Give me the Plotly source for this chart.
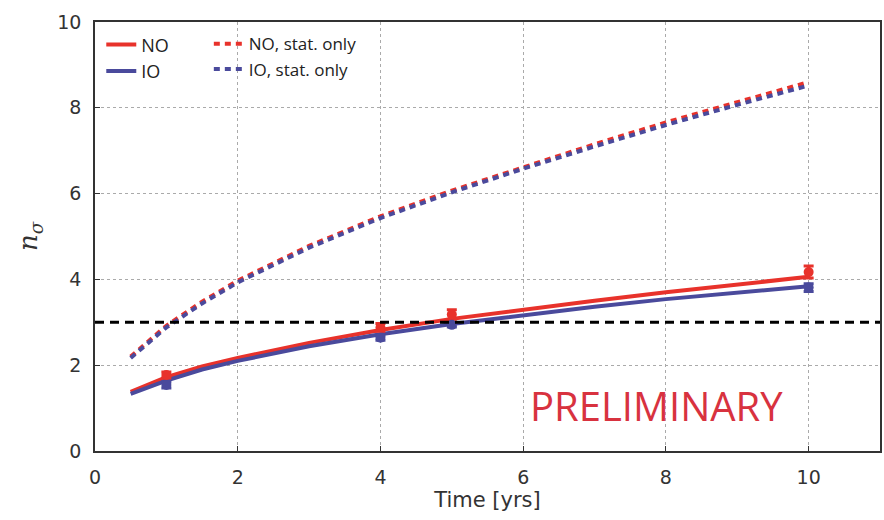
import plotly.graph_objects as go

# Curves
t_curve = [0.5, 1, 1.5, 2, 3, 4, 5, 6, 7, 8, 9, 10]
no_sys = [1.38, 1.72, 1.97, 2.17, 2.52, 2.82, 3.08, 3.30, 3.50, 3.70, 3.88, 4.06]
io_sys = [1.33, 1.64, 1.90, 2.10, 2.44, 2.72, 2.96, 3.17, 3.36, 3.54, 3.70, 3.84]
no_stat = [2.20, 2.92, 3.48, 3.97, 4.78, 5.47, 6.07, 6.62, 7.15, 7.66, 8.14, 8.60]
io_stat = [2.17, 2.88, 3.44, 3.93, 4.74, 5.43, 6.03, 6.58, 7.10, 7.60, 8.07, 8.52]

# Simulated points with error bars
t_pts = [1, 4, 5, 10]
no_pts = [1.77, 2.88, 3.18, 4.17]
no_err = [0.07, 0.09, 0.11, 0.14]
io_pts = [1.54, 2.64, 2.94, 3.81]
io_err = [0.07, 0.06, 0.05, 0.09]

threshold = 3
RED = "#e8322b"
BLUE = "#4a4a9c"
DASH = "6px,5px"

fig = go.Figure()
fig.add_trace(go.Scatter(x=t_curve, y=no_stat, mode="lines", name="NO, stat. only",
                         legend="legend2", line=dict(color=RED, width=4, dash=DASH)))
fig.add_trace(go.Scatter(x=t_curve, y=io_stat, mode="lines", name="IO, stat. only",
                         legend="legend2", line=dict(color=BLUE, width=4, dash=DASH)))
fig.add_trace(go.Scatter(x=t_curve, y=no_sys, mode="lines", name="NO",
                         line=dict(color=RED, width=4)))
fig.add_trace(go.Scatter(x=t_curve, y=io_sys, mode="lines", name="IO",
                         line=dict(color=BLUE, width=4)))
fig.add_trace(go.Scatter(x=t_pts, y=no_pts, mode="markers", showlegend=False,
                         marker=dict(color=RED, size=10),
                         error_y=dict(type="data", array=no_err, color=RED, thickness=3, width=5)))
fig.add_trace(go.Scatter(x=t_pts, y=io_pts, mode="markers", showlegend=False,
                         marker=dict(color=BLUE, size=10),
                         error_y=dict(type="data", array=io_err, color=BLUE, thickness=3, width=5)))

fig.add_hline(y=threshold, line=dict(color="black", width=3, dash="9px,6px"))

fig.add_annotation(text="PRELIMINARY", x=0.715, y=0.107, xref="paper", yref="paper",
                   showarrow=False, xanchor="center", yanchor="middle",
                   font=dict(family="Open Sans", size=40, color="#d8323f"))

axis_common = dict(showline=True, mirror=True, linecolor="#333", linewidth=1.5,
                   showgrid=True, gridcolor="#aaa", griddash="dot", gridwidth=1,
                   ticks="inside", ticklen=5, tickcolor="#333", zeroline=False,
                   tickfont=dict(family="DejaVu Sans", size=19, color="#333"))

fig.update_xaxes(range=[0, 11], tickvals=[0, 2, 4, 6, 8, 10], ticklabelstandoff=8,
                 title=dict(text="Time [yrs]", font=dict(family="DejaVu Sans", size=21, color="#333"),
                            standoff=4),
                 **axis_common)
fig.update_yaxes(range=[0, 10], tickvals=[0, 2, 4, 6, 8, 10], ticklabelstandoff=8,
                 title=dict(text="<i>n</i><sub><i>σ</i></sub>",
                            font=dict(family="DejaVu Serif", size=26, color="#333"), standoff=12),
                 **axis_common)

fig.update_layout(
    width=884, height=520,
    margin=dict(l=95, r=2, t=22, b=69),
    plot_bgcolor="white", paper_bgcolor="white",
    legend=dict(orientation="v", x=0.008, y=0.99, xanchor="left", yanchor="top",
                font=dict(family="Open Sans", size=18, color="#222"),
                bgcolor="rgba(255,255,255,0)", itemwidth=30, tracegroupgap=0),
    legend2=dict(orientation="v", x=0.145, y=0.99, xanchor="left", yanchor="top",
                 font=dict(family="Open Sans", size=17, color="#222"),
                 bgcolor="rgba(255,255,255,0)", itemwidth=30, tracegroupgap=0),
)

fig.write_html("out.html")
